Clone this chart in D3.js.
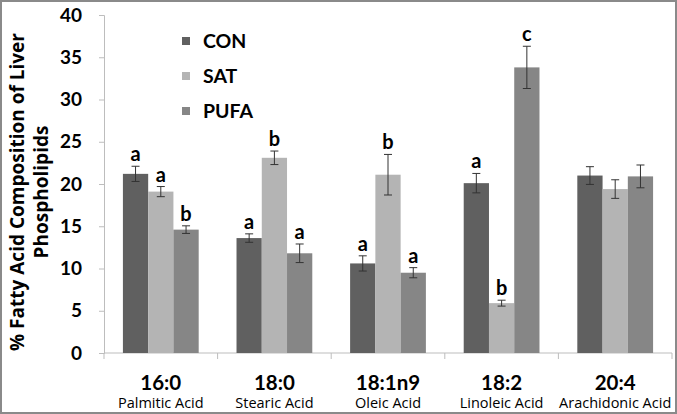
<!DOCTYPE html>
<html><head><meta charset="utf-8">
<script src="https://cdn.jsdelivr.net/npm/d3@7"></script>
<style>
html,body{margin:0;padding:0;background:#fff;}
svg{display:block;}
</style></head>
<body>
<svg id="chart" width="677" height="414"></svg>
<script>
const categories = ["16:0","18:0","18:1n9","18:2","20:4"];
const subLabels = ["Palmitic Acid","Stearic Acid","Oleic Acid","Linoleic Acid","Arachidonic Acid"];
const seriesNames = ["CON","SAT","PUFA"];
const conValues  = [21.2, 13.6, 10.6, 20.1, 21.0];
const satValues  = [19.1, 23.1, 21.1, 5.9, 19.4];
const pufaValues = [14.6, 11.8, 9.5, 33.8, 20.9];
const conErr  = [0.9, 0.5, 0.9, 1.15, 1.05];
const satErr  = [0.6, 0.8, 2.4, 0.35, 1.1];
const pufaErr = [0.45, 1.1, 0.6, 2.5, 1.35];
const conSig  = ["a","a","a","a",""];
const satSig  = ["a","b","b","b",""];
const pufaSig = ["b","a","a","c",""];
const yTicks = [0,5,10,15,20,25,30,35,40];
const colors = ["#606060","#b4b4b4","#868686"];

const values = [conValues, satValues, pufaValues];
const errs = [conErr, satErr, pufaErr];
const sigs = [conSig, satSig, pufaSig];

const svg = d3.select("#chart");
const W = 677, H = 414;
const mLeft = 104, mRight = 672, mTop = 15, mBottom = 353;

svg.append("rect").attr("x",1).attr("y",1).attr("width",W-2).attr("height",H-2)
  .attr("fill","#fff").attr("stroke","#8a8a8a").attr("stroke-width",2);

const x = d3.scaleBand().domain(categories).range([mLeft,mRight]).paddingInner(0.333).paddingOuter(0.1665);
const xs = d3.scaleBand().domain(seriesNames).range([0,x.bandwidth()]);
const y = d3.scaleLinear().domain([0,40]).range([mBottom,mTop]);

// y axis
const yAxis = svg.append("g").attr("transform",`translate(${mLeft},0)`)
  .call(d3.axisLeft(y).tickValues(yTicks).tickSize(5).tickPadding(17));
yAxis.select(".domain").attr("stroke","#bdbdbd");
yAxis.selectAll(".tick line").attr("stroke","#bdbdbd");
yAxis.selectAll(".tick text").attr("font-family","Lato, 'Open Sans', sans-serif")
  .attr("font-weight","bold").attr("font-size",19).attr("fill","#000");

// x axis line with ticks at band boundaries
const boundaries = d3.range(categories.length+1).map(i => mLeft + i*(mRight-mLeft)/categories.length);
svg.append("line").attr("x1",mLeft).attr("x2",mRight).attr("y1",mBottom).attr("y2",mBottom).attr("stroke","#bdbdbd");
svg.selectAll(".xtick").data(boundaries).join("line").attr("class","xtick")
  .attr("x1",d=>d).attr("x2",d=>d).attr("y1",mBottom).attr("y2",mBottom+6).attr("stroke","#bdbdbd");

// bars
const groups = svg.selectAll(".grp").data(categories).join("g").attr("class","grp")
  .attr("transform",d=>`translate(${x(d)},0)`);
seriesNames.forEach((s,si)=>{
  groups.append("rect")
    .attr("x",xs(s)).attr("width",xs.bandwidth())
    .attr("y",(d,i)=>y(values[si][i])).attr("height",(d,i)=>mBottom-y(values[si][i]))
    .attr("fill",colors[si]);
  const cx = xs(s)+xs.bandwidth()/2;
  groups.append("line").attr("x1",cx).attr("x2",cx)
    .attr("y1",(d,i)=>y(values[si][i]+errs[si][i])).attr("y2",(d,i)=>y(values[si][i]-errs[si][i]))
    .attr("stroke","#333").attr("stroke-width",1);
  [1,-1].forEach(sign=>{
    groups.append("line").attr("x1",cx-4).attr("x2",cx+4)
      .attr("y1",(d,i)=>y(values[si][i]+sign*errs[si][i])).attr("y2",(d,i)=>y(values[si][i]+sign*errs[si][i]))
      .attr("stroke","#333").attr("stroke-width",1);
  });
  groups.append("text").attr("x",cx)
    .attr("y",(d,i)=>y(values[si][i]+errs[si][i])-5)
    .attr("text-anchor","middle").attr("font-family","Lato, 'Open Sans', sans-serif")
    .attr("font-weight","bold").attr("font-size",20).attr("fill","#000")
    .text((d,i)=>sigs[si][i]);
});

// category labels
svg.selectAll(".cat").data(categories).join("text").attr("class","cat")
  .attr("x",d=>x(d)+x.bandwidth()/2).attr("y",390)
  .attr("text-anchor","middle").attr("font-family","Lato, 'Open Sans', sans-serif")
  .attr("font-weight","bold").attr("font-size",20.5).attr("fill","#000").text(d=>d);
svg.selectAll(".sub").data(subLabels).join("text").attr("class","sub")
  .attr("x",(d,i)=>x(categories[i])+x.bandwidth()/2).attr("y",407.5)
  .attr("text-anchor","middle").attr("font-family","'Open Sans', sans-serif")
  .attr("font-size",14.5).attr("fill","#000").text(d=>d);

// y title
const yt = svg.append("text").attr("transform","translate(0,192) rotate(-90)")
  .attr("text-anchor","middle").attr("font-family","'Open Sans', sans-serif")
  .attr("font-weight","bold").attr("font-size",19).attr("fill","#000");
yt.append("tspan").attr("x",0).attr("y",24).text("% Fatty Acid Composition of Liver");
yt.append("tspan").attr("x",0).attr("y",48).text("Phospholipids");

// legend
const leg = svg.selectAll(".leg").data(seriesNames).join("g").attr("class","leg")
  .attr("transform",(d,i)=>`translate(182,${41+i*35})`);
leg.append("rect").attr("x",0).attr("y",-4).attr("width",8).attr("height",8).attr("fill",(d,i)=>colors[i]);
leg.append("text").attr("x",21).attr("y",7).attr("font-family","Lato, 'Open Sans', sans-serif")
  .attr("font-weight","bold").attr("font-size",19.5).attr("fill","#000").text(d=>d);
</script>
</body></html>
